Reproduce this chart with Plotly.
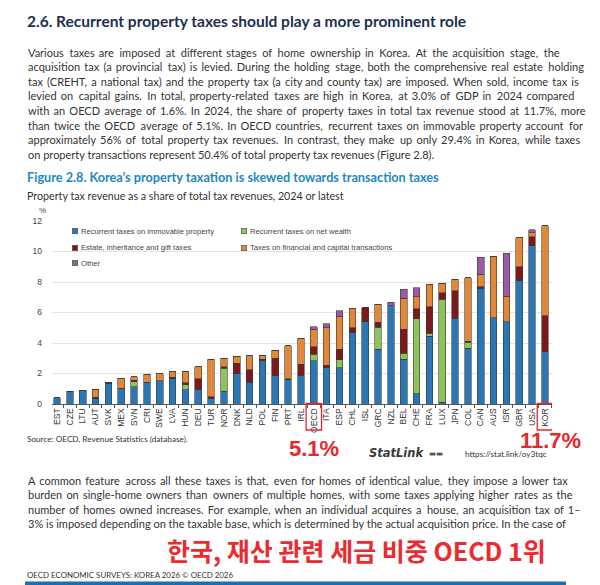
import plotly.graph_objects as go

countries = ["EST","CZE","LTU","AUT","SVK","MEX","SVN","CRI","SWE","LVA","HUN","DEU","TUR","NOR",
             "DNK","NLD","POL","FIN","PRT","IRL","OECD","ITA","ESP","CHL","ISL","GRC","NZL","BEL",
             "CHE","FRA","LUX","JPN","COL","CAN","AUS","ISR","GBR","USA","KOR"]

recurrent_immovable = [0.40,0.85,0.90,0.38,1.35,1.03,1.13,1.40,1.53,1.66,0.92,0.98,0.37,0.83,
                       1.99,1.44,2.88,1.86,1.62,1.86,2.84,2.40,2.38,4.67,5.41,3.58,6.45,2.93,
                       0.66,4.45,0.10,5.61,3.65,7.58,5.66,5.39,8.12,10.39,3.44]
recurrent_wealth = [0,0,0,0,0,0,0.33,0,0,0,0.33,0,0,1.51,
                    0,0,0,0,0,0,0.41,0,0.52,0,0,1.44,0,0.39,
                    4.93,0.18,6.76,0,0.40,0,0,0,0,0,0]
estate_gift = [0,0,0,0.05,0.03,0,0.11,0.04,0,0.08,0.15,0.66,0.11,0.10,
               0.67,0.81,0.06,1.15,0.05,0.74,0.50,0.15,0.68,0.33,0.90,0.35,0,1.57,
               0.65,1.75,0.43,1.81,0.05,0.11,0,0,0.88,0.57,2.36]
transactions = [0,0,0,0.54,0,0.67,0.22,0.52,0.47,0.36,0.74,0.81,2.45,0.55,
                0.46,0.92,0.26,0.51,2.15,1.70,1.14,2.45,2.16,1.24,0,1.16,0,2.03,
                0.79,1.44,0.64,0.75,4.18,0.83,4.03,1.68,1.90,0.26,5.90]
other = [0,0,0,0,0,0,0,0,0,0,0,0,0,0,
         0,0,0,0,0,0,0.18,0.26,0.39,0,0,0,0.21,0.59,
         0.59,0,0,0,0,1.11,0,2.80,0,0.22,0]

series_names = ["Recurrent taxes on immovable property", "Recurrent taxes on net wealth",
                "Estate, inheritance and gift taxes", "Taxes on financial and capital transactions",
                "Other"]
series_values = [recurrent_immovable, recurrent_wealth, estate_gift, transactions, other]
series_colors = ["#2b76b3", "#8dc35a", "#7a1a1c", "#e1873a", "#9a5aa6"]
legend_swatch = ["#2b76b3", "#8dc35a", "#7a1a1c", "#e1873a", "#7f6c8a"]

# page is drawn 8px in from the window corner; reference pixel (X, Y) maps to paper coords below
W, H = 592, 577
L, R, T, B = 44, 48, 213, 181

def px(x):
    return (x - 52) / 500.0

def py(y):
    return (404 - y) / 183.0

fig = go.Figure()
for name, vals, col in zip(series_names, series_values, series_colors):
    fig.add_trace(go.Bar(
        x=countries, y=vals, name=name, showlegend=False,
        marker=dict(color=col, line=dict(color="#3a3a3a", width=0.6)),
    ))

TXT = "Lato"
body_col = "#333333"
annotations = []

def add_text(text, x, y, size, color=body_col, bold=False, family=TXT, xanchor="left"):
    t = "<b>" + text + "</b>" if bold else text
    annotations.append(dict(text=t, x=px(x), y=py(y), xref="paper", yref="paper",
                            xanchor=xanchor, yanchor="middle", showarrow=False,
                            font=dict(size=size, color=color, family=family)))

THIN = "\u2009"
UNIT = 2.2  # approx px per thin space at 11px

def justify(line, extra):
    words = line.split(" ")
    gaps = len(words) - 1
    if gaps <= 0 or extra <= 0:
        return line
    out = words[0]
    used = 0
    for i in range(gaps):
        target = round(extra * (i + 1) / gaps / UNIT)
        n = target - used
        used = target
        out += " " + THIN * n + words[i + 1]
    return out

add_text("2.6. Recurrent property taxes should play a more prominent role", 25, 21, 15.5, "#1c3050", bold=True)

para1 = [
    "Various taxes are imposed at different stages of home ownership in Korea. At the acquisition stage, the",
    "acquisition tax (a provincial tax) is levied. During the holding stage, both the comprehensive real estate holding",
    "tax (CREHT, a national tax) and the property tax (a city and county tax) are imposed. When sold, income tax is",
    "levied on capital gains. In total, property-related taxes are high in Korea, at 3.0% of GDP in 2024 compared",
    "with an OECD average of 1.6%. In 2024, the share of property taxes in total tax revenue stood at 11.7%, more",
    "than twice the OECD average of 5.1%. In OECD countries, recurrent taxes on immovable property account for",
    "approximately 56% of total property tax revenues. In contrast, they make up only 29.4% in Korea, while taxes",
    "on property transactions represent 50.4% of total property tax revenues (Figure 2.8).",
]
para1_extra = [61, 41, 42, 55, 46, 41, 46, 0]
for i, line in enumerate(para1):
    add_text(justify(line, para1_extra[i]), 26, 52 + i * 14.6, 11)

add_text("Figure 2.8. Korea\u2019s property taxation is skewed towards transaction taxes", 25, 177, 12.7, "#2387c2", bold=True)
add_text("Property tax revenue as a share of total tax revenues, 2024 or latest", 25, 195, 10.7)
add_text("%", 37, 210, 8, "#444444", family="Liberation Sans")

# legend (two columns inside the plot)
leg_pos = [(72, 231), (241, 231), (72, 247.5), (241, 247.5), (72, 263)]
for (lx, ly), name, col in zip(leg_pos, series_names, legend_swatch):
    annotations.append(dict(text="", x=px(lx), y=py(ly), xref="paper", yref="paper",
                            xanchor="left", yanchor="middle", showarrow=False,
                            width=5, height=5, bgcolor=col, bordercolor="#4a4a4a",
                            borderwidth=0.6, borderpad=0, font=dict(size=4)))
    add_text(name, lx + 7, ly, 7.6, "#444444", family="Liberation Sans")

add_text("Source: OECD, Revenue Statistics (database).", 25, 439, 8.2)

annotations.append(dict(text="<b>5.1%</b>", x="OECD", y=py(448), xref="x", yref="paper",
                        xanchor="center", yanchor="middle", showarrow=False,
                        font=dict(size=22, color="#e8262d", family="Liberation Sans")))
annotations.append(dict(text="<b>11.7%</b>", x=px(550), y=py(440), xref="paper", yref="paper",
                        xanchor="center", yanchor="middle", showarrow=False,
                        font=dict(size=22, color="#e8262d", family="Liberation Sans")))

add_text("<i>StatLink</i>", 367, 453, 11.5, "#3a3a3a", bold=True, family="DejaVu Sans")
add_text("\u25ac\u25ac", 427, 453, 7.5, "#555555", family="DejaVu Sans")
add_text("https://stat.link/oy3tqc", 463, 453.5, 8.2)

para2 = [
    "A common feature across all these taxes is that, even for homes of identical value, they impose a lower tax",
    "burden on single-home owners than owners of multiple homes, with some taxes applying higher rates as the",
    "number of homes owned increases. For example, when an individual acquires a house, an acquisition tax of 1\u2013",
    "3% is imposed depending on the taxable base, which is determined by the actual acquisition price. In the case of",
]
para2_extra = [49, 39, 39, 0]
for i, line in enumerate(para2):
    add_text(justify(line, para2_extra[i]), 26, 480 + i * 14.6, 11)

add_text("\ud55c\uad6d, \uc7ac\uc0b0 \uad00\ub828 \uc138\uae08 \ube44\uc911 OECD 1\uc704", 356, 550, 25,
         "#ec2a2f", bold=True, family="Noto Sans CJK KR", xanchor="center")
add_text("OECD ECONOMIC SURVEYS: KOREA 2026 \u00a9 OECD 2026", 25, 575, 7.9)

shapes = [
    dict(type="rect", xref="paper", yref="paper", x0=px(25), x1=px(566), y0=py(585), y1=py(581.5),
         fillcolor="#1f6cb0", line=dict(width=0)),
]
for c in ["OECD", "KOR"]:
    idx = countries.index(c)
    shapes.append(dict(type="rect", xref="x", yref="paper", x0=idx - 0.6, x1=idx + 0.6,
                       y0=py(430), y1=py(403.5), line=dict(color="#e8262d", width=1.3),
                       fillcolor="rgba(0,0,0,0)"))

fig.update_layout(
    width=W, height=H,
    margin=dict(l=L, r=R, t=T, b=B, pad=0),
    barmode="stack", bargap=0.48,
    paper_bgcolor="white", plot_bgcolor="white",
    font=dict(family="Liberation Sans", color="#333333"),
    showlegend=False,
    xaxis=dict(type="category", tickangle=-90, tickfont=dict(size=8.5, color="#333333"),
               showline=True, linecolor="#555555", linewidth=1, ticks="outside", ticklen=3,
               tickcolor="#555555", tickson="boundaries", showgrid=False,
               range=[-0.39, len(countries) - 0.45]),
    yaxis=dict(range=[0, 12], dtick=2, showgrid=True, gridcolor="#e3e3e3", gridwidth=1,
               zeroline=False, tickfont=dict(size=8.5, color="#444444"), ticks="", showline=False,
               ticklabelstandoff=9),
    annotations=annotations,
    shapes=shapes,
)

fig.write_html("out.html")
